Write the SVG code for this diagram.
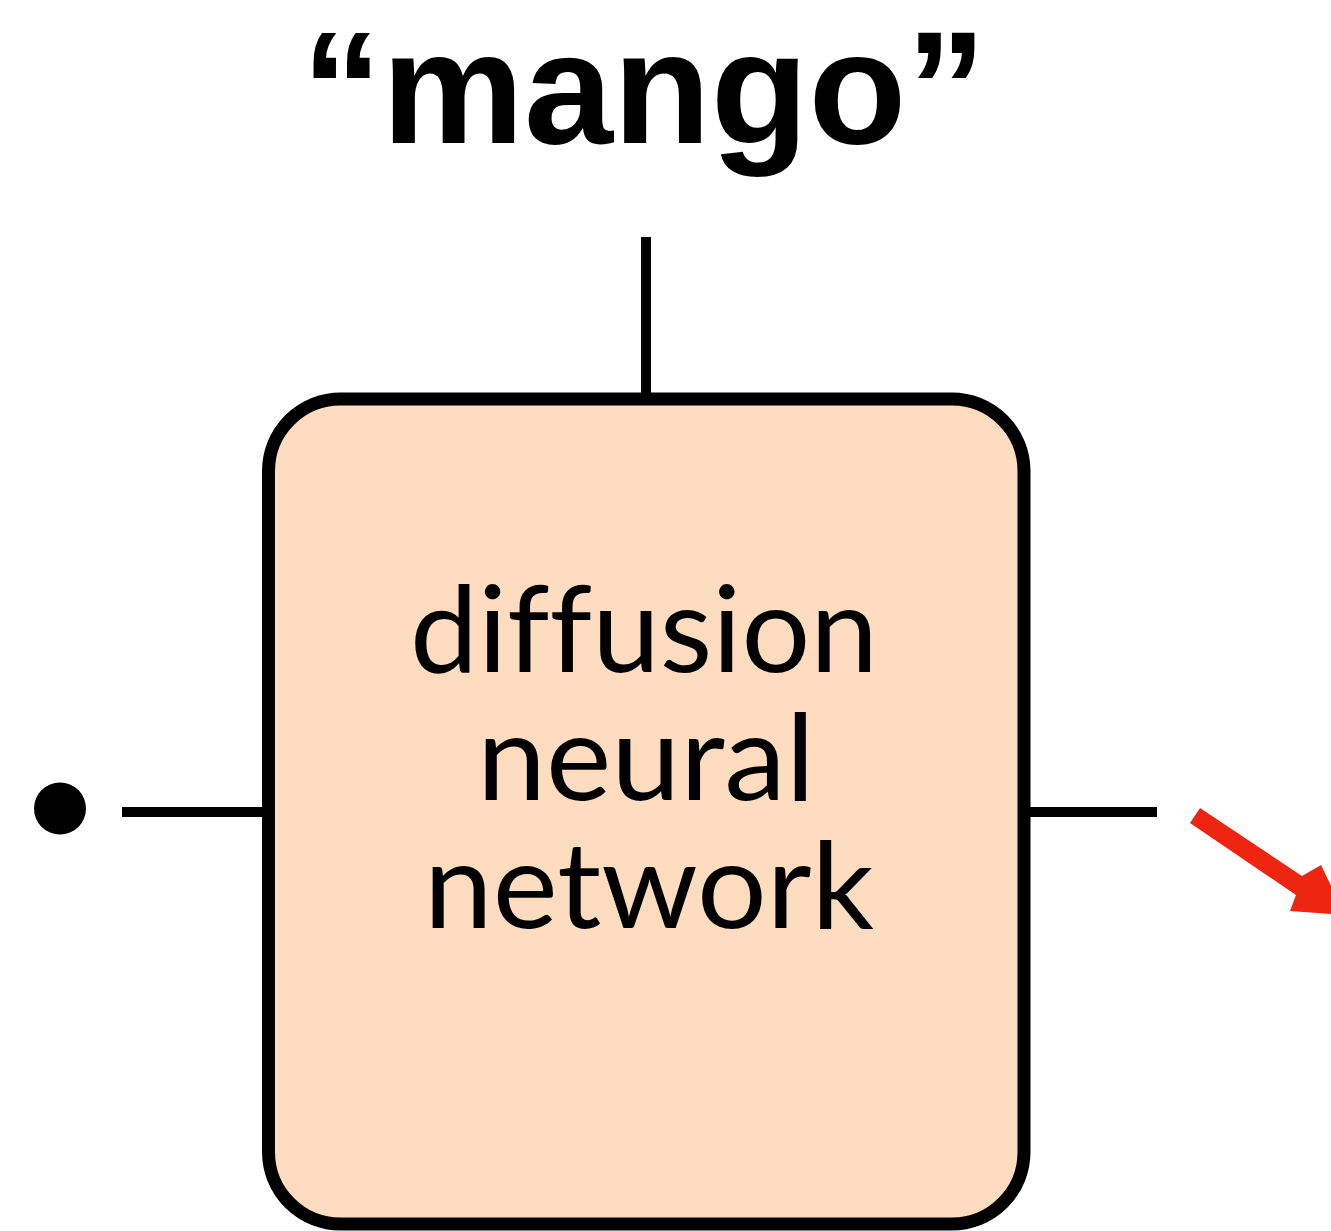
<svg xmlns="http://www.w3.org/2000/svg" width="1331" height="1231" viewBox="0 0 1331 1231">
  <style>
    .title { font-family: "Liberation Sans", Arial, sans-serif; font-weight: bold; font-size: 160px; fill: #000; }
    .label { font-family: Lato, "Open Sans", sans-serif; font-size: 121px; fill: #000; font-variant-ligatures: none; font-feature-settings: "liga" 0; }
    .wire { stroke: #000; stroke-width: 10; fill: none; }
  </style>
  <rect width="1331" height="1231" fill="#ffffff"/>
  <g id="title">
    <text class="title" x="644" y="143" text-anchor="middle">“mango”</text>
  </g>
  <g id="connectors">
    <line class="wire" x1="646" y1="237" x2="646" y2="399"/>
    <line class="wire" x1="122" y1="812" x2="268" y2="812"/>
    <line class="wire" x1="1024" y1="812" x2="1157" y2="812"/>
    <polygon fill="#EE2511" points="1200,808 1302,876 1321,865 1345,915 1290,911 1296,895 1190,823"/>
  </g>
  <g id="input-dot">
    <circle cx="60" cy="808.5" r="26" fill="#000"/>
  </g>
  <g id="diffusion-network">
    <rect x="268.5" y="399" width="755.5" height="825" rx="72" ry="72" fill="#FDDCBF" stroke="#000" stroke-width="13"/>
    <text class="label" x="644" y="672" text-anchor="middle" textLength="468" lengthAdjust="spacingAndGlyphs">diffusion</text>
    <text class="label" x="646" y="800" text-anchor="middle" textLength="338" lengthAdjust="spacingAndGlyphs">neural</text>
    <text class="label" x="649" y="928" text-anchor="middle" textLength="450" lengthAdjust="spacingAndGlyphs">network</text>
  </g>
</svg>
